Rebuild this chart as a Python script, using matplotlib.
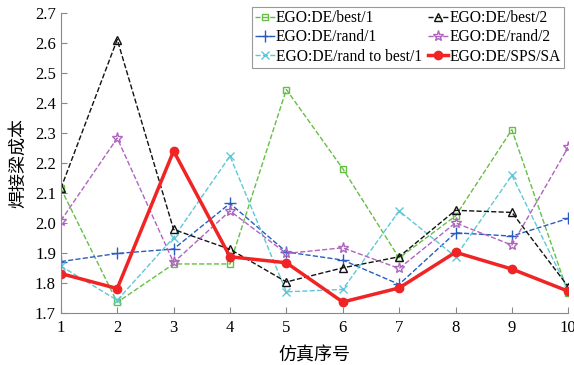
import matplotlib.pyplot as plt
import numpy as np

plt.rcParams['font.family'] = ['Liberation Serif', 'Noto Sans CJK SC']
plt.rcParams['font.size'] = 11

runs = np.arange(1, 11)
best1 = [2.115, 1.735, 1.863, 1.863, 2.445, 2.181, 1.883, 2.023, 2.311, 1.765]
best2 = [2.115, 2.612, 1.978, 1.912, 1.803, 1.850, 1.887, 2.042, 2.035, 1.787]
rand1 = [1.871, 1.898, 1.913, 2.065, 1.903, 1.876, 1.795, 1.967, 1.956, 2.015]
rand2 = [2.007, 2.283, 1.868, 2.040, 1.898, 1.917, 1.848, 2.000, 1.926, 2.253]
randbest1 = [1.856, 1.742, 1.951, 2.223, 1.770, 1.778, 2.040, 1.887, 2.159, 1.775]
spssa = [1.831, 1.781, 2.240, 1.887, 1.867, 1.736, 1.783, 1.902, 1.846, 1.772]

fig = plt.figure(figsize=(5.74, 3.65), dpi=100)
ax = fig.add_axes([0.106, 0.143, 0.884, 0.821])

# legend fills column by column, so plot in that order
ax.plot(runs, best1, '--', color='#66bf44', marker='s', ms=5, mfc='none', lw=1, label='EGO:DE/best/1')
ax.plot(runs, rand1, '--', color='#2a5cc0', marker='+', ms=8, lw=1, label='EGO:DE/rand/1')
ax.plot(runs, randbest1, '--', color='#5cc8d8', marker='x', ms=6, lw=1, label='EGO:DE/rand to best/1')
ax.plot(runs, best2, '--', color='#111111', marker='^', ms=5.5, mfc='none', lw=1, label='EGO:DE/best/2')
ax.plot(runs, rand2, '--', color='#b064c0', marker='*', ms=8, mfc='none', lw=1, label='EGO:DE/rand/2')
ax.plot(runs, spssa, '-', color='#f02424', marker='o', ms=6, lw=2.5, label='EGO:DE/SPS/SA')

ax.set_xlim(1, 10)
ax.set_ylim(1.7, 2.7)
ax.set_xticks(runs)
ax.set_yticks(np.arange(1.7, 2.71, 0.1))
ax.yaxis.set_major_formatter(plt.FormatStrFormatter('%.1f'))
for s in ['top', 'right']:
    ax.spines[s].set_visible(False)
for s in ['left', 'bottom']:
    ax.spines[s].set_color('#888888')
ax.tick_params(direction='in', color='#888888', length=4, labelsize=12)
ax.tick_params(axis='x', pad=5)

ax.set_xlabel('仿真序号', family=['Noto Sans CJK SC'], fontsize=13, labelpad=8)
ax.set_ylabel('焊接梁成本', family=['Noto Sans CJK SC'], fontsize=13, labelpad=6)

leg = ax.legend(ncol=2, loc='upper right', bbox_to_anchor=(0.997, 1.03), fontsize=11.2,
                handlelength=1.3, handletextpad=0.05, columnspacing=0.4,
                labelspacing=0.2, borderpad=0.2, borderaxespad=0.2,
                fancybox=False, framealpha=1)
leg.get_frame().set_edgecolor('#999999')
leg.get_frame().set_linewidth(0.8)

fig.savefig('out.png', dpi=100)
